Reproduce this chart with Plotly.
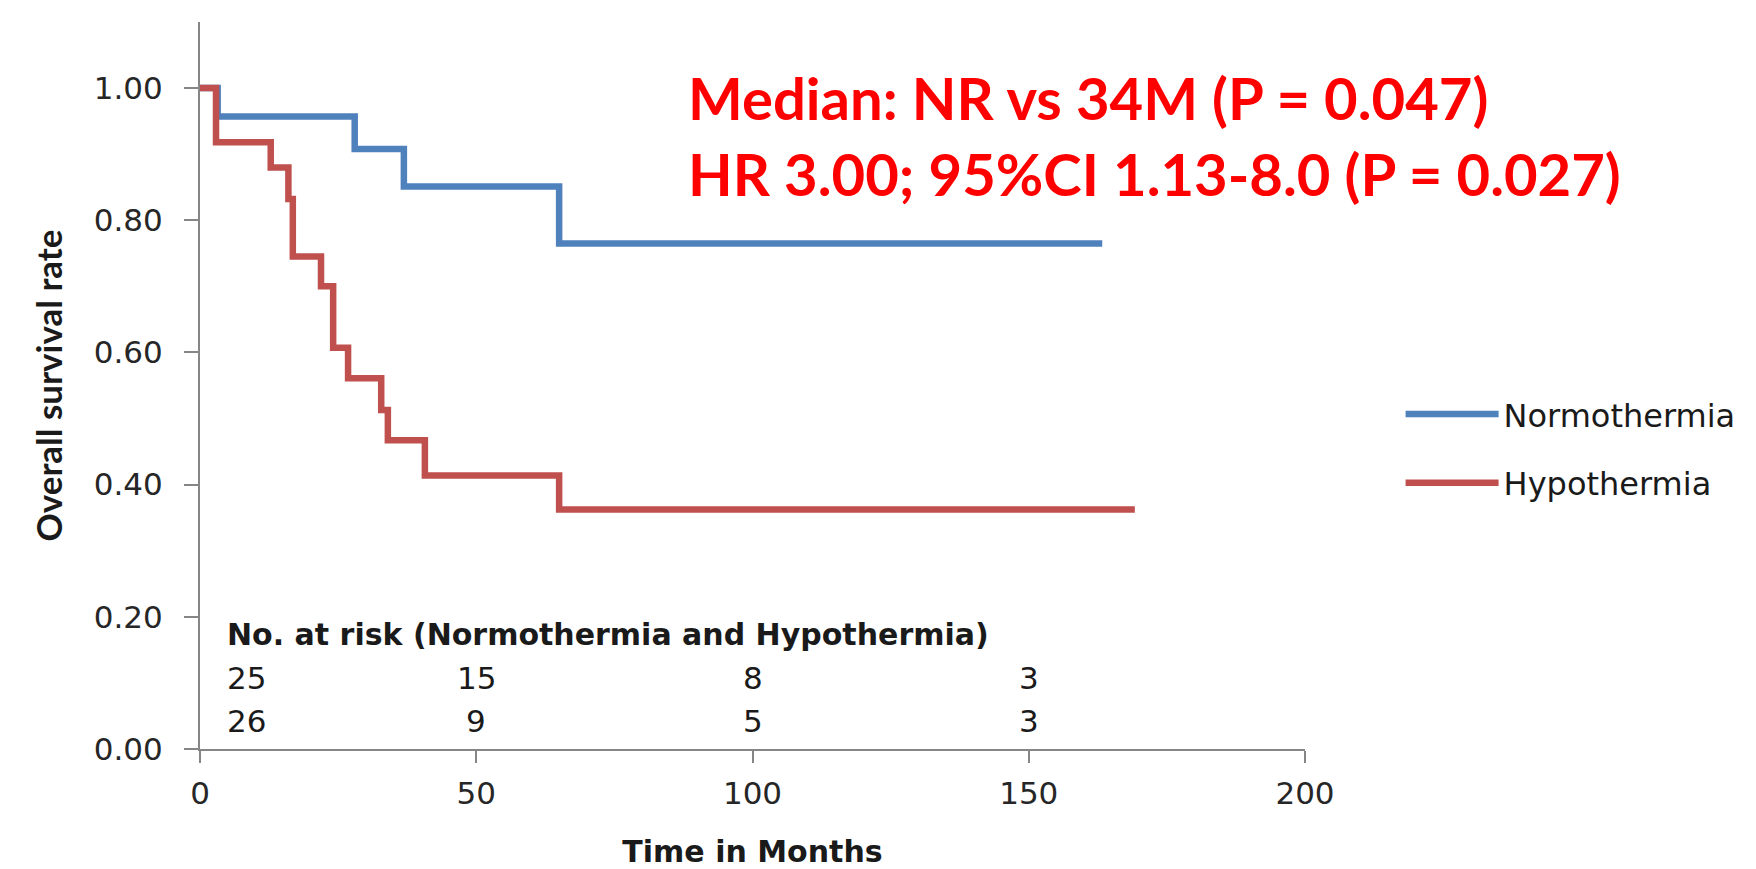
import plotly.graph_objects as go

# Kaplan-Meier step data
norm_months = [0, 3.2, 28.0, 36.9, 65.0, 163.3]
norm_surv = [1.00, 0.957, 0.908, 0.851, 0.765, 0.765]

hypo_months = [0, 2.9, 12.8, 16.0, 16.8, 21.9, 24.1, 26.8, 32.8, 34.0, 40.7, 65.0, 169.2]
hypo_surv = [1.00, 0.918, 0.880, 0.832, 0.745, 0.700, 0.607, 0.561, 0.513, 0.467, 0.414, 0.3625, 0.3625]

# Numbers at risk
risk_months = [4.6, 50, 100, 150]
risk_norm = [25, 15, 8, 3]
risk_hypo = [26, 9, 5, 3]

x_ticks = [0, 50, 100, 150, 200]
y_ticks = [0.0, 0.2, 0.4, 0.6, 0.8, 1.0]

BLUE = "#4F81BD"
RED = "#C0504D"
FONT = "Lato"
WIDE = "DejaVu Sans"
AXIS = "#868686"
TXT = "#1a1a1a"

fig = go.Figure()
fig.add_trace(go.Scatter(x=norm_months, y=norm_surv, mode="lines", name="Normothermia",
                         legendgroup="n", line=dict(color=BLUE, width=6.5, shape="hv")))
fig.add_trace(go.Scatter(x=hypo_months, y=hypo_surv, mode="lines", name="Hypothermia",
                         legendgroup="h", line=dict(color=RED, width=6.5, shape="hv")))

annotations = []
annotations.append(dict(x=risk_months[0], y=0.173, xref="x", yref="y", xanchor="left", yanchor="middle",
                        text="<b>No. at risk (Normothermia and Hypothermia)</b>", showarrow=False,
                        font=dict(family=WIDE, size=30, color=TXT)))
for i, (m, a, b) in enumerate(zip(risk_months, risk_norm, risk_hypo)):
    anchor = "left" if i == 0 else "center"
    annotations.append(dict(x=m, y=0.1077, xref="x", yref="y", xanchor=anchor, yanchor="middle",
                            text=str(a), showarrow=False, font=dict(family=WIDE, size=31, color=TXT)))
    annotations.append(dict(x=m, y=0.043, xref="x", yref="y", xanchor=anchor, yanchor="middle",
                            text=str(b), showarrow=False, font=dict(family=WIDE, size=31, color=TXT)))

annotations.append(dict(x=(686 - 199.5) / 1105.5, y=(869 - 97 - 119.7) / 727.6, xref="paper", yref="paper",
                        xanchor="left", yanchor="middle", showarrow=False,
                        text="<b>Median: NR vs 34M (P = 0.047)</b>",
                        font=dict(family=FONT, size=58, color="#FF0000")))
annotations.append(dict(x=(686 - 199.5) / 1105.5, y=(869 - 173.6 - 119.7) / 727.6, xref="paper", yref="paper",
                        xanchor="left", yanchor="middle", showarrow=False,
                        text="<b>HR 3.00; 95%CI 1.13-8.0 (P = 0.027)</b>",
                        font=dict(family=FONT, size=58, color="#FF0000")))

fig.update_layout(
    width=1756, height=869,
    margin=dict(l=199.5, r=451, t=21.7, b=119.7),
    paper_bgcolor="white", plot_bgcolor="white",
    font=dict(family=WIDE, size=31, color="#262626"),
    showlegend=True,
    legend=dict(x=1.0865, y=0.413, xanchor="left", yanchor="middle", itemwidth=93,
                font=dict(family=WIDE, size=32, color=TXT), tracegroupgap=24,
                bgcolor="rgba(0,0,0,0)"),
    annotations=annotations,
)
fig.update_xaxes(range=[0, 200], tickvals=x_ticks, showgrid=False, zeroline=False, automargin=False,
                 showline=True, linecolor=AXIS, linewidth=2, ticks="outside", ticklen=12,
                 tickcolor=AXIS, tickwidth=2, ticklabelstandoff=4,
                 tickfont=dict(family=WIDE, size=31, color="#262626"),
                 title=dict(text="<b>Time in Months</b>", font=dict(family=WIDE, size=30, color=TXT),
                            standoff=40))
fig.update_yaxes(range=[0, 1.1], tickvals=y_ticks, tickformat=".2f", showgrid=False, zeroline=False,
                 automargin=False,
                 showline=True, linecolor=AXIS, linewidth=2, ticks="outside", ticklen=14,
                 tickcolor=AXIS, tickwidth=2, ticklabelstandoff=15,
                 tickfont=dict(family=WIDE, size=31, color="#262626"),
                 title=dict(text="<b>Overall survival rate</b>", font=dict(family=FONT, size=35, color=TXT),
                            standoff=21))

fig.write_html("out.html")
